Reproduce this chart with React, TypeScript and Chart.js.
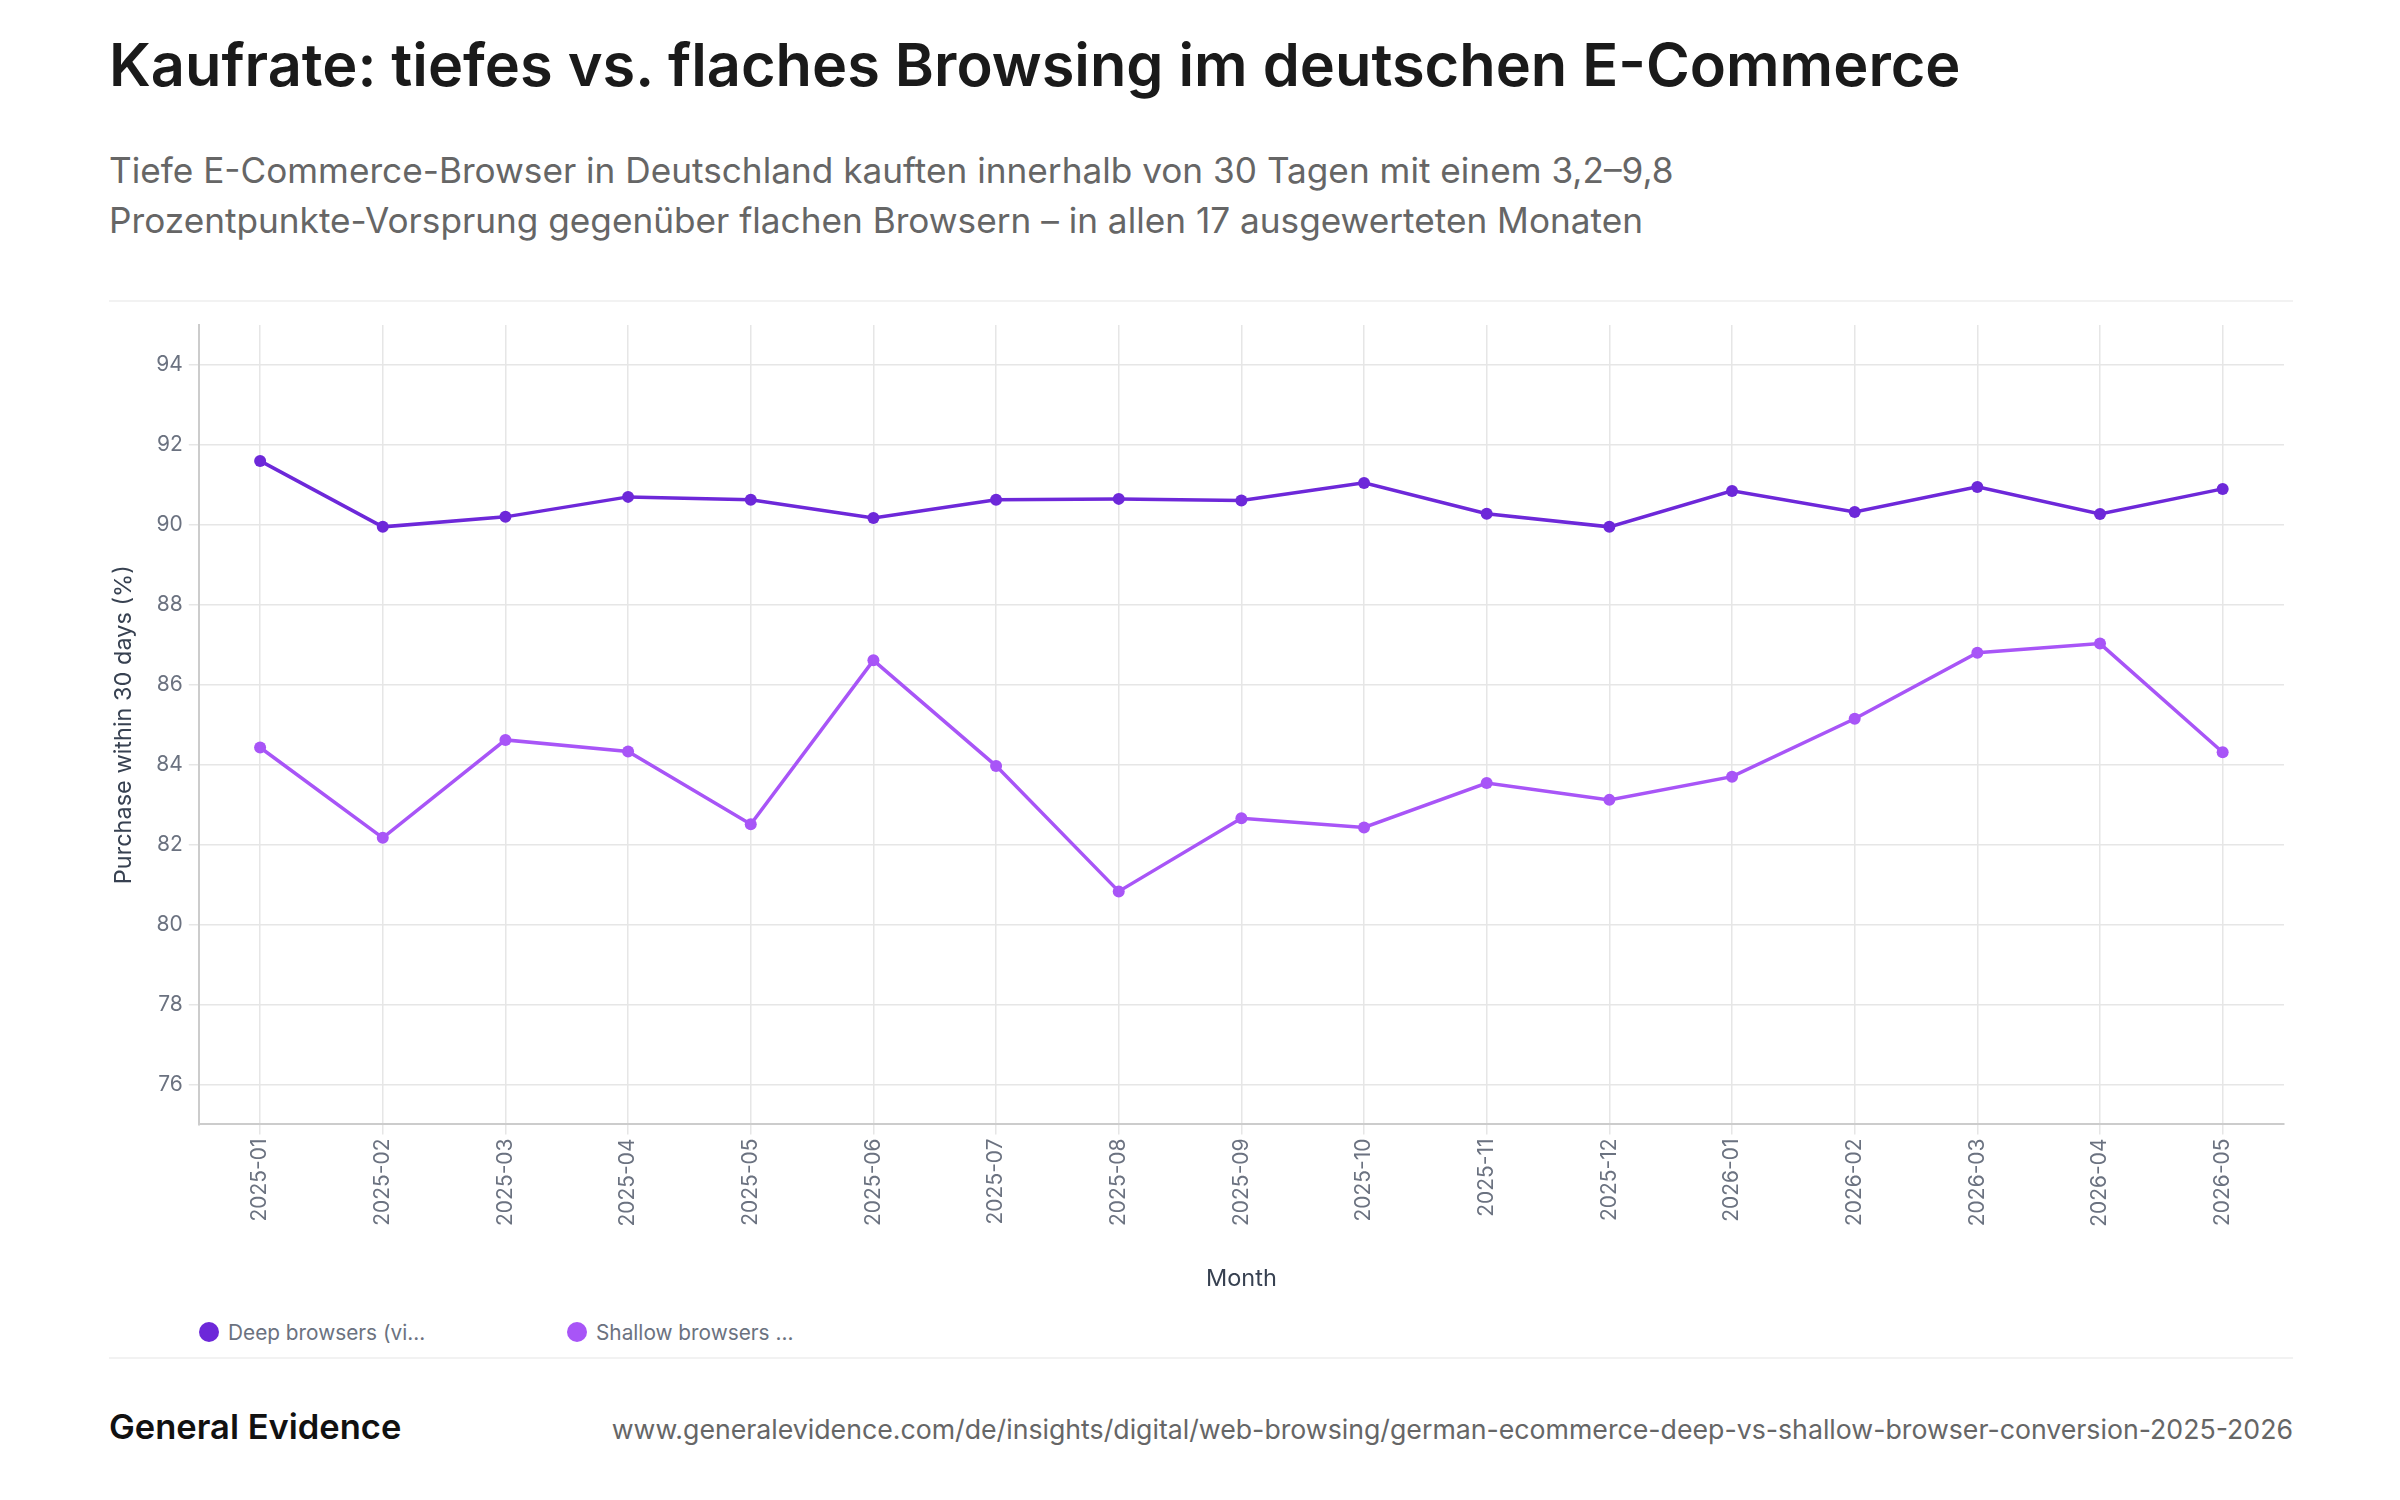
import { useEffect, useRef } from 'react';
import { Chart, registerables } from 'chart.js';

Chart.register(...registerables);

const months = [
  '2025-01', '2025-02', '2025-03', '2025-04', '2025-05', '2025-06', '2025-07', '2025-08', '2025-09',
  '2025-10', '2025-11', '2025-12', '2026-01', '2026-02', '2026-03', '2026-04', '2026-05',
];
const deepValues = [91.6, 89.95, 90.2, 90.7, 90.63, 90.17, 90.63, 90.65, 90.61, 91.05, 90.28, 89.95, 90.85, 90.32, 90.95, 90.27, 90.9];
const shallowValues = [84.43, 82.17, 84.62, 84.33, 82.51, 86.61, 83.97, 80.83, 82.66, 82.43, 83.54, 83.12, 83.7, 85.15, 86.8, 87.03, 84.31];
const seriesLabels = ['Deep browsers (vi…', 'Shallow browsers …'];
const seriesColors = ['#6d28d9', '#a855f7'];
const yRange = [75, 95];
const yTicks = [76, 78, 80, 82, 84, 86, 88, 90, 92, 94];

const FONT = 'Inter, "Noto Sans", sans-serif';

const LineChart = () => {
  const ref = useRef<HTMLCanvasElement>(null);

  useEffect(() => {
    if (!ref.current) return;
    const chart = new Chart(ref.current, {
      type: 'line',
      data: {
        labels: months,
        datasets: [deepValues, shallowValues].map((values, i) => ({
          label: seriesLabels[i],
          data: values,
          borderColor: seriesColors[i],
          backgroundColor: seriesColors[i],
          borderWidth: 3.5,
          pointRadius: 6,
          pointBorderWidth: 0,
          tension: 0,
        })),
      },
      options: {
        animation: false,
        responsive: true,
        maintainAspectRatio: false,
        layout: { padding: { top: 21, right: 9, left: 1, bottom: 6 } },
        plugins: {
          legend: { display: false },
          tooltip: { enabled: false },
        },
        scales: {
          x: {
            offset: true,
            grid: { color: '#e6e6e6', lineWidth: 1.5, tickLength: 10 },
            border: { color: '#cccccc', width: 2 },
            ticks: {
              color: '#6b7280',
              font: { family: FONT, size: 21 },
              minRotation: 90,
              maxRotation: 90,
              padding: 4,
            },
            title: {
              display: true,
              text: 'Month',
              color: '#374151',
              font: { family: FONT, size: 23.5 },
              padding: { top: 34, bottom: 0 },
            },
          },
          y: {
            min: yRange[0],
            max: yRange[1],
            afterBuildTicks: (axis) => {
              axis.ticks = yTicks.map((value) => ({ value }));
            },
            grid: { color: '#e6e6e6', lineWidth: 1.5, tickLength: 10 },
            border: { color: '#cccccc', width: 2 },
            ticks: {
              color: '#6b7280',
              font: { family: FONT, size: 21 },
              padding: 6,
            },
            title: {
              display: true,
              text: 'Purchase within 30 days (%)',
              color: '#374151',
              font: { family: FONT, size: 23.5 },
              padding: { top: 0, bottom: 12 },
            },
          },
        },
      },
    });
    return () => chart.destroy();
  }, []);

  return <canvas ref={ref} />;
};

export default function App() {
  return (
    <div style={{ position: 'relative', width: 2184, height: 1484, marginLeft: 101, fontFamily: FONT }}>
      <div style={{ position: 'absolute', top: 26, left: 0, fontSize: 59.5, lineHeight: '60px', fontWeight: 600, color: '#1a1a1a', whiteSpace: 'nowrap' }}>
        Kaufrate: tiefes vs. flaches Browsing im deutschen E-Commerce
      </div>
      <div style={{ position: 'absolute', top: 137, left: 0, fontSize: 35.2, lineHeight: '50px', color: '#666666', whiteSpace: 'nowrap' }}>
        Tiefe E-Commerce-Browser in Deutschland kauften innerhalb von 30 Tagen mit einem 3,2–9,8
        <br />
        Prozentpunkte-Vorsprung gegenüber flachen Browsern – in allen 17 ausgewerteten Monaten
      </div>
      <div style={{ position: 'absolute', top: 292, left: 0, width: '100%', height: 2, background: '#f2f2f2' }} />
      <div style={{ position: 'absolute', top: 296, left: 0, width: '100%', height: 995 }}>
        <LineChart />
      </div>
      <div style={{ position: 'absolute', top: 1312, left: 90, display: 'flex', fontSize: 20.8, color: '#6b7280' }}>
        {seriesLabels.map((label, i) => (
          <div key={label} style={{ width: 368, display: 'flex', alignItems: 'center', height: 24 }}>
            <span style={{ width: 20, height: 20, borderRadius: 10, background: seriesColors[i], marginRight: 9 }} />
            <span>{label}</span>
          </div>
        ))}
      </div>
      <div style={{ position: 'absolute', top: 1349, left: 0, width: '100%', height: 2, background: '#f2f2f2' }} />
      <div style={{ position: 'absolute', top: 1398, left: 0, width: '100%', display: 'flex', justifyContent: 'space-between', alignItems: 'baseline' }}>
        <span style={{ fontSize: 34.5, fontWeight: 600, color: '#111111' }}>General Evidence</span>
        <span style={{ fontSize: 26.7, color: '#666666' }}>
          www.generalevidence.com/de/insights/digital/web-browsing/german-ecommerce-deep-vs-shallow-browser-conversion-2025-2026
        </span>
      </div>
    </div>
  );
}
